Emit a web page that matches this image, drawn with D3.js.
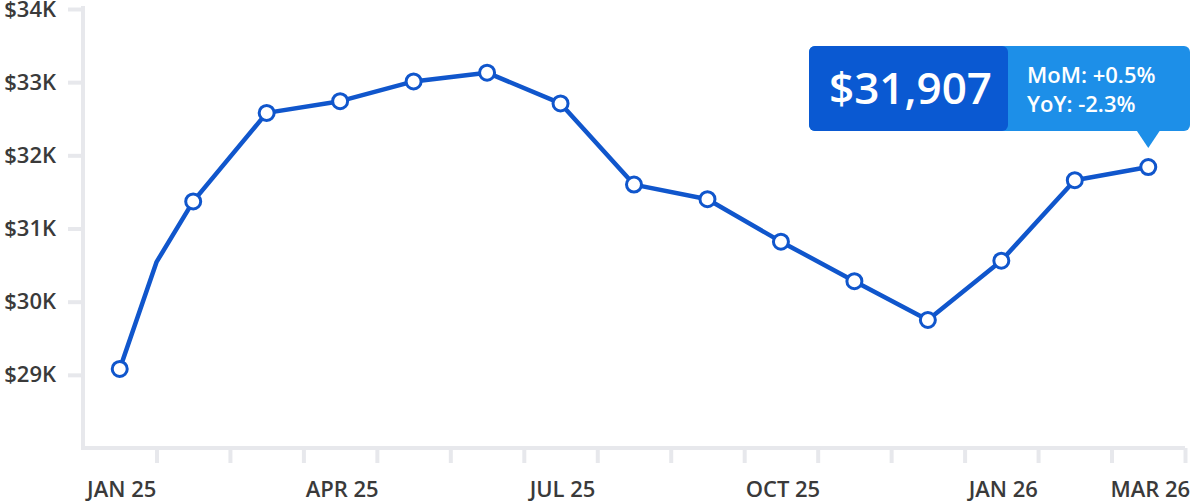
<!DOCTYPE html>
<html>
<head>
<meta charset="utf-8">
<script src="https://cdn.jsdelivr.net/npm/d3@7"></script>
<style>
  html, body { margin: 0; padding: 0; background: #fff; }
  svg { display: block; font-family: "Open Sans", "Noto Sans", sans-serif; }
  .axis path, .axis line { stroke: #e7e8ec; stroke-width: 4; }
  .axis text { fill: #3a3a3a; font-family: "Open Sans", "Noto Sans", sans-serif; font-size: 22px; font-weight: 600; }
</style>
</head>
<body>
<svg id="chart" width="1200" height="501"></svg>
<script>
// monthly average price, in $K
const months = ['JAN 25', 'FEB 25', 'MAR 25', 'APR 25', 'MAY 25', 'JUN 25', 'JUL 25',
  'AUG 25', 'SEP 25', 'OCT 25', 'NOV 25', 'DEC 25', 'JAN 26', 'FEB 26', 'MAR 26']
const prices = [29.08, 31.37, 32.58, 32.74, 33.01, 33.13, 32.71,
  31.60, 31.40, 30.82, 30.28, 29.75, 30.56, 31.66, 31.84]
// the line has one unmarked vertex between JAN 25 and FEB 25
const extraPoint = { index: 0.5, value: 30.54 }

const monthLabels = ['JAN 25', 'APR 25', 'JUL 25', 'OCT 25', 'JAN 26', 'MAR 26']
const yTicks = [29, 30, 31, 32, 33, 34]

const callout = { price: '$31,907', mom: 'MoM: +0.5%', yoy: 'YoY: -2.3%' }

const blue = '#1056cc'

const svg = d3.select('#chart')

let dimensions = {
  left: 83,
  right: 1185,
  top: 9,
  bottom: 448,
}

const x = d3.scaleLinear()
  .domain([-0.5, months.length - 0.5])
  .range([dimensions.left, dimensions.right])

const y = d3.scaleLinear()
  .domain([28, 34])
  .range([dimensions.bottom, dimensions.top])

// y axis
const yAxis = svg.append('g')
  .attr('class', 'axis')
  .attr('transform', `translate(${dimensions.left},0)`)
  .call(d3.axisLeft(y)
    .tickValues(yTicks)
    .tickSize(15)
    .tickSizeOuter(0)
    .tickPadding(12)
    .tickFormat(d => `$${d}K`))
yAxis.attr('font-family', null).attr('font-size', null)
yAxis.select('.domain').attr('d', `M0,${y(34) - 3}V${dimensions.bottom}`)

// x axis: ticks at month boundaries, labels at month centers
const edges = d3.range(0.5, months.length, 1)
const xAxis = svg.append('g')
  .attr('class', 'axis')
  .attr('transform', `translate(0,${dimensions.bottom})`)
  .call(d3.axisBottom(x)
    .tickValues(edges)
    .tickSize(15)
    .tickSizeOuter(0)
    .tickFormat(''))
xAxis.select('.domain').attr('d', `M${dimensions.left - 2},0H${dimensions.right}`)

svg.append('g')
  .attr('class', 'axis')
  .selectAll('text')
  .data(monthLabels)
  .enter().append('text')
  .attr('x', d => x(months.indexOf(d)) + 2)
  .attr('y', 497)
  .attr('text-anchor', 'middle')
  .text(d => d)

// line
const points = prices.map((v, i) => ({ index: i, value: v }))
const linePoints = [points[0], extraPoint].concat(points.slice(1))

const line = d3.line()
  .x(d => x(d.index))
  .y(d => y(d.value))

svg.append('path')
  .attr('d', line(linePoints))
  .attr('fill', 'none')
  .attr('stroke', blue)
  .attr('stroke-width', 4.5)
  .attr('stroke-linejoin', 'round')
  .attr('stroke-linecap', 'round')

svg.selectAll('.dot')
  .data(points)
  .enter().append('circle')
  .attr('class', 'dot')
  .attr('cx', d => x(d.index))
  .attr('cy', d => y(d.value))
  .attr('r', 7.5)
  .attr('fill', '#fff')
  .attr('stroke', blue)
  .attr('stroke-width', 3)

// callout above the last point
const last = points[points.length - 1]
const tipX = x(last.index)
const tipY = y(last.value) - 19
const boxBottom = tipY - 17
const boxTop = boxBottom - 85
const boxLeft = 809
const boxSplit = 1008
const boxRight = 1190

const tip = svg.append('g')

tip.append('rect')
  .attr('x', boxLeft)
  .attr('y', boxTop)
  .attr('width', boxRight - boxLeft)
  .attr('height', boxBottom - boxTop)
  .attr('rx', 6)
  .attr('fill', '#1d8fe8')

tip.append('path')
  .attr('d', `M${tipX - 12},${boxBottom - 1}L${tipX},${tipY}L${tipX + 12},${boxBottom - 1}Z`)
  .attr('fill', '#1d8fe8')

tip.append('rect')
  .attr('x', boxLeft)
  .attr('y', boxTop)
  .attr('width', boxSplit - boxLeft)
  .attr('height', boxBottom - boxTop)
  .attr('rx', 6)
  .attr('fill', '#0a59d2')

tip.append('text')
  .attr('x', (boxLeft + boxSplit) / 2 + 2)
  .attr('y', boxTop + 58)
  .attr('text-anchor', 'middle')
  .attr('fill', '#fff')
  .attr('font-size', 44)
  .attr('font-weight', 600)
  .text(callout.price)

tip.selectAll('.sub')
  .data([callout.mom, callout.yoy])
  .enter().append('text')
  .attr('class', 'sub')
  .attr('x', 1027)
  .attr('y', (d, i) => boxTop + 37 + i * 29)
  .attr('fill', '#fff')
  .attr('font-size', 22)
  .attr('font-weight', 600)
  .text(d => d)
</script>
</body>
</html>
